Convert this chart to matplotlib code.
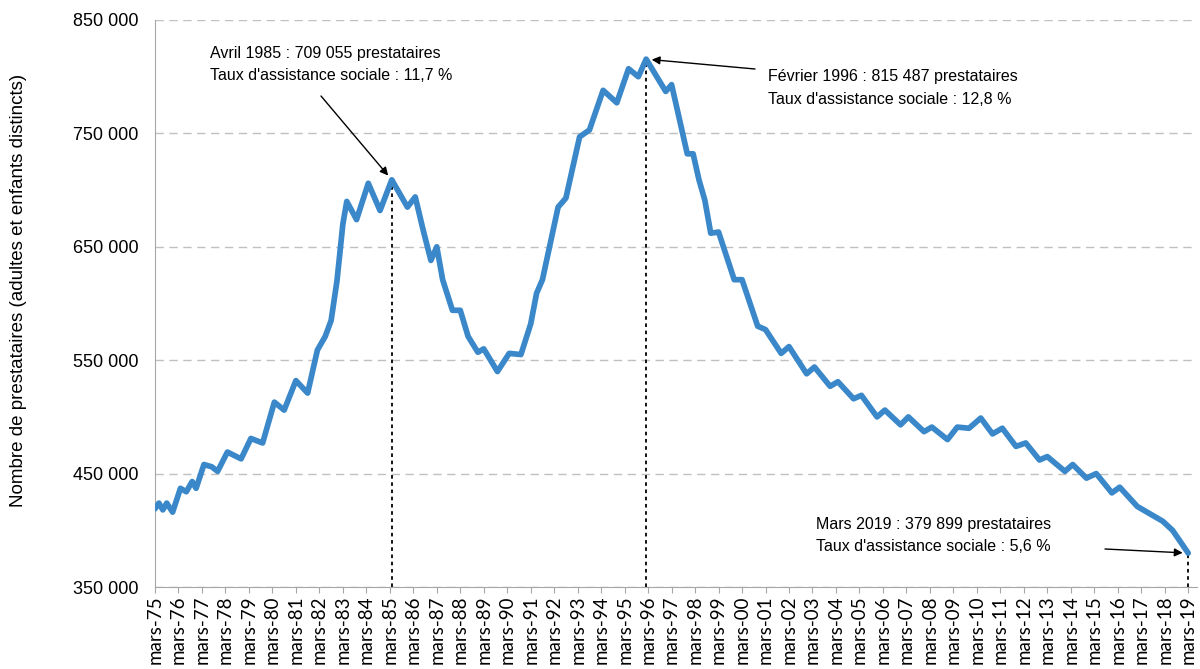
import matplotlib
matplotlib.use('Agg')
import matplotlib.pyplot as plt
from matplotlib.ticker import FuncFormatter

plt.rcParams['font.family'] = ['Liberation Sans', 'DejaVu Sans']

# months counted from mars 1975 (0) to mars 2019 (528)
months = [0, 2, 4, 6, 9, 13, 16, 19, 21, 25, 29, 32, 37, 44, 49, 55, 61, 66,
          72, 78, 83, 87, 90, 93, 96, 98, 103, 109, 115, 121, 129, 133, 137,
          141, 144, 147, 152, 156, 160, 165, 168, 175, 181, 187, 192, 195, 198,
          202, 206, 210, 214, 217, 222, 229, 236, 242, 247, 251, 261, 264, 272,
          275, 278, 281, 284, 288, 296, 300, 308, 312, 320, 324, 333, 337, 345,
          349, 357, 361, 369, 373, 381, 385, 393, 397, 405, 410, 416, 422, 428,
          433, 440, 445, 452, 456, 465, 469, 476, 481, 489, 493, 502, 508, 515,
          520, 528]
prestataires = [419000, 424000, 418000, 424000, 416000, 437000, 434000, 443000,
                437000, 458000, 456000, 452000, 469000, 463000, 481000, 477000,
                513000, 506000, 532000, 521000, 559000, 571000, 585000, 620000,
                670000, 690000, 674000, 706000, 682000, 709055, 685000, 694000,
                665000, 638000, 650000, 621000, 594000, 594000, 571000, 557000,
                560000, 540000, 556000, 555000, 582000, 609000, 621000, 653000,
                685000, 693000, 724000, 747000, 753000, 788000, 777000, 807000,
                800000, 815487, 787000, 793000, 732000, 732000, 709000, 691000,
                662000, 663000, 621000, 621000, 580000, 577000, 556000, 562000,
                538000, 544000, 527000, 531000, 516000, 519000, 500000, 506000,
                493000, 500000, 487000, 491000, 480000, 491000, 490000, 499000,
                485000, 490000, 474000, 477000, 462000, 465000, 452000, 458000,
                446000, 450000, 433000, 438000, 421000, 415000, 408000, 400000,
                379899]

years = list(range(1975, 2020))
tick_labels = ['mars-%02d' % (y % 100) for y in years]
y_ticks = [350000, 450000, 550000, 650000, 750000, 850000]

# annotated points
annot_months = [121, 251, 528]
annot_values = [709055, 815487, 379899]
annot_line1 = ['Avril 1985 : 709 055 prestataires',
               'Février 1996 : 815 487 prestataires',
               'Mars 2019 : 379 899 prestataires']
annot_line2 = ["Taux d'assistance sociale : 11,7 %",
               "Taux d'assistance sociale : 12,8 %",
               "Taux d'assistance sociale : 5,6 %"]

W, H = 1200, 669
fig = plt.figure(figsize=(12, 6.69), dpi=100)
ax = fig.add_axes([155 / W, 82 / H, 1042 / W, 567 / H])

ax.plot(months, prestataires, color='#3A88C9', lw=4.1,
        solid_joinstyle='round', solid_capstyle='round', zorder=3)

ax.set_ylim(350000, 850000)
ax.set_xlim(0, 532.5)
ax.set_yticks(y_ticks)
ax.yaxis.set_major_formatter(FuncFormatter(lambda v, p: '{:,.0f}'.format(v).replace(',', ' ')))
ax.set_xticks([12 * i for i in range(len(years))])
ax.set_xticklabels(tick_labels, rotation=90, fontfamily='Lato', fontsize=13.5)

ax.yaxis.grid(True, linestyle=(0, (6, 4)), color='#C0C0C0', lw=1)
ax.set_axisbelow(True)
for s in ['top', 'right']:
    ax.spines[s].set_visible(False)
for s in ['left', 'bottom']:
    ax.spines[s].set_color('#A6A6A6')
ax.tick_params(axis='y', length=0, pad=12, labelsize=13)
ax.tick_params(axis='x', length=4, color='#A6A6A6', pad=2)

# dotted drop lines
for m, v in zip(annot_months, annot_values):
    ax.plot([m, m], [350000, v], color='black', lw=1.3, linestyle=(0, (2, 2)), zorder=2)

# arrows (start in figure pixels)
arrow_starts = [(321, H - 96), (755, H - 69), (1105, H - 549)]
for (sx, sy), m, v in zip(arrow_starts, annot_months, annot_values):
    ax.annotate('', xy=(m, v), xycoords='data', xytext=(sx, sy), textcoords='figure pixels',
                arrowprops=dict(arrowstyle='-|>', color='black', lw=1, mutation_scale=12,
                                shrinkA=0, shrinkB=4))

# annotation texts
text_pos = [(210, 58, 80), (768, 81, 104), (816, 529, 551)]
for (tx, b1, b2), t1, t2 in zip(text_pos, annot_line1, annot_line2):
    fig.text(tx / W, (H - b1) / H, t1, fontsize=11.5, va='baseline', ha='left')
    fig.text(tx / W, (H - b2) / H, t2, fontsize=11.5, va='baseline', ha='left')

fig.text(19 / W, (H - 290) / H, 'Nombre de prestataires (adultes et enfants distincts)',
         rotation=90, va='center', ha='center', fontsize=13.5)

fig.savefig('out.png', dpi=100)
